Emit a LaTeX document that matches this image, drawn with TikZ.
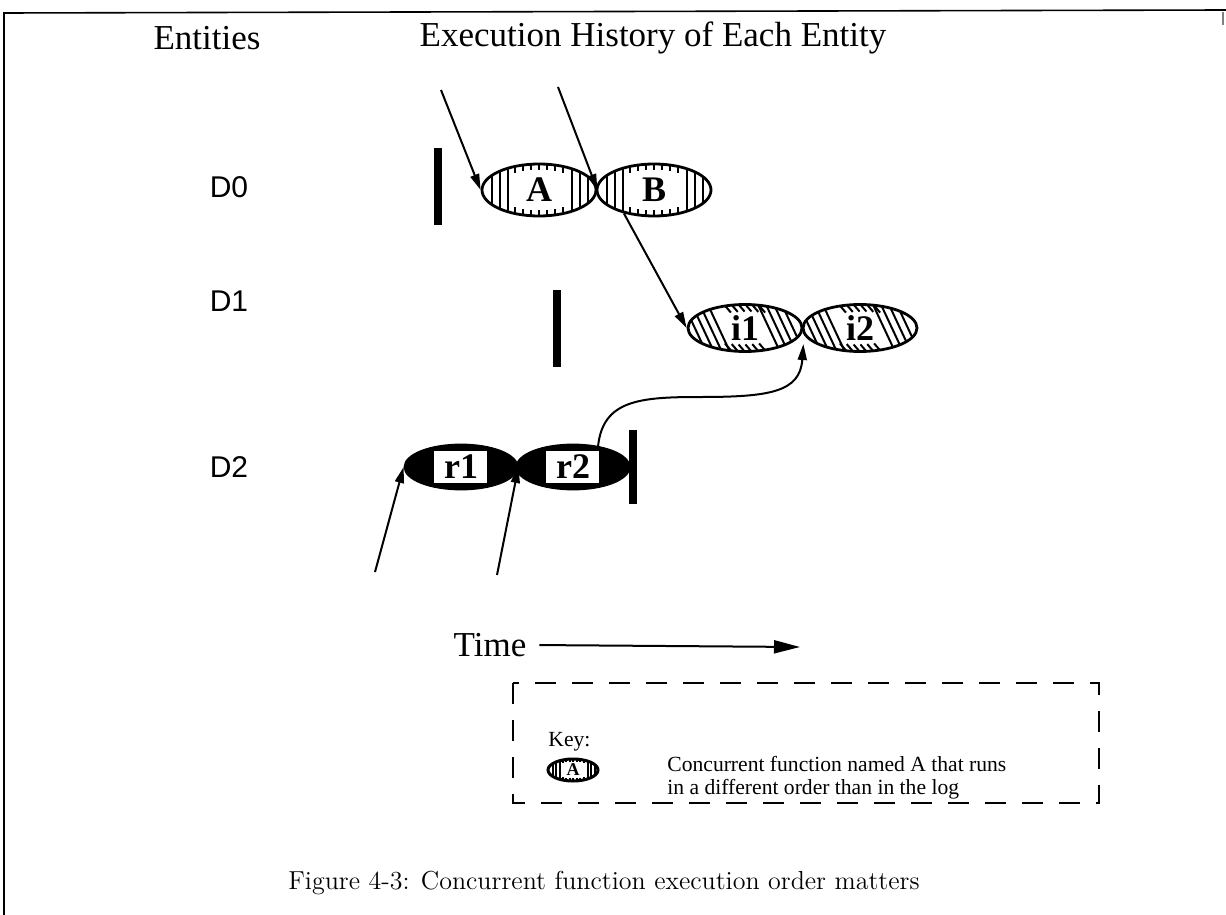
\documentclass[tikz,border=0pt]{standalone}
\usepackage{fontspec}
\newfontfamily\timesfont{Liberation Serif}
\newfontfamily\helvfont{Liberation Sans}
\usetikzlibrary{shapes.geometric,arrows.meta,calc}

% vertical hatching at both ends of a function: node, x radius, y radius
\newcommand{\vhatch}[3]{%
  \begin{scope}[shift={(#1.center)},line width=1pt]
    \clip (0,0) ellipse [x radius=#2, y radius=#3];
    \foreach \f in {-0.82,-0.68,-0.54,0.58,0.72,0.86}
      \draw ({\f*#2},-#3) -- ({\f*#2},#3);
    \foreach \f in {-0.42,-0.28,...,0.5}{
      \pgfmathsetmacro\ye{#3*sqrt(1-\f*\f)}
      \draw ({\f*#2},-\ye) -- ({\f*#2},{-\ye+0.24*#3})
            ({\f*#2},\ye) -- ({\f*#2},{\ye-0.24*#3});}
  \end{scope}}
% diagonal hatching at both ends of a function
\newcommand{\dhatch}[3]{%
  \begin{scope}[shift={(#1.center)},line width=1pt]
    \clip (0,0) ellipse [x radius=#2, y radius=#3];
    \foreach \f in {-0.88,-0.74,-0.6,-0.46,0.42,0.56,0.7,0.84}
      \draw ({\f*#2-11},-#3) -- ({\f*#2+11},#3);
    \foreach \f in {-0.3,-0.18,...,0.32}{
      \pgfmathsetmacro\ye{#3*sqrt(1-\f*\f)}
      \draw ({\f*#2-3},-\ye) -- ({\f*#2+3},{-\ye+7})
            ({\f*#2-3},{\ye-7}) -- ({\f*#2+3},\ye);}
  \end{scope}}

\tikzset{
  head/.style={font=\timesfont\fontsize{17.5}{20}\selectfont},
  entity/.style={font=\helvfont\fontsize{15}{18}\selectfont},
  bar/.style={line width=4pt},
  flow/.style={line width=1pt,-{Triangle[length=8pt,width=4.5pt]}},
  timearrow/.style={line width=1pt,-{Triangle[length=13pt,width=6.5pt]}},
  func/.style={ellipse,draw,line width=1.4pt,inner sep=0pt,
    minimum width=57pt,minimum height=26pt,
    font=\timesfont\fontsize{18}{18}\selectfont\bfseries},
  dfunc/.style={func,minimum height=23.5pt},
  % black with a white box
  rfunc/.style={func,fill=black,minimum width=56pt,minimum height=22pt,path picture={
    \fill[white] ([xshift=-13.5pt,yshift=-8pt]path picture bounding box.center)
      rectangle ([xshift=13pt,yshift=8pt]path picture bounding box.center);}},
  keyfunc/.style={ellipse,draw,line width=1.5pt,inner sep=0pt,
    minimum width=25pt,minimum height=11pt,
    font=\timesfont\fontsize{9}{9}\selectfont\bfseries},
  keybox/.style={line width=1pt,dash pattern=on 10.5pt off 8pt},
  keytext/.style={font=\timesfont\fontsize{10.8}{11.5}\selectfont,inner sep=0pt},
  caption/.style={font=\fontsize{13}{15}\selectfont}
}

\begin{document}
\begin{tikzpicture}[x=0.5pt,y=-0.5pt]
  \useasboundingbox (0,0) rectangle (1226,915);
  % page frame
  \draw[line width=0.8pt] (4,915) -- (4,13) -- (1226,10);
  \draw[line width=0.6pt,gray] (1223,12) -- (1223,25);

  \node[head] (ent) at (207,38) {Entities};
  \node[head] (hist) at (653,38) {Execution History of Each Entity};

  \node[entity] (d0) at (229,187) {D0};
  \node[entity] (d1) at (229,301) {D1};
  \node[entity] (d2) at (229,467) {D2};

  % start of each history
  \draw[bar] (438,148) -- (438,225);
  \draw[bar] (557,290) -- (557,367);
  \draw[bar] (633,430) -- (633,504);

  \node[func] (A) at (539,190) {A};
  \node[func] (B) at (654,190) {B};
  \vhatch{A}{57}{26}
  \vhatch{B}{57}{26}
  \node[dfunc] (i1) at (745,328) {i1};
  \node[dfunc] (i2) at (860,328) {i2};
  \dhatch{i1}{57}{23.5}
  \dhatch{i2}{57}{23.5}
  \node[rfunc] (r1) at (461,467) {r1};
  \node[rfunc] (r2) at (573,467) {r2};

  \coordinate (inA) at (441,90);
  \coordinate (inB) at (558,87);
  \coordinate (inr1) at (375,572);
  \coordinate (inr2) at (497,575);
  \coordinate (join) at ($(i1.east)+(0,16)$);

  \draw[flow] (inA) -- (A.west);
  \draw[flow] (inB) -- (A.east);
  \draw[flow] (B.218) -- (i1.west);
  \draw[flow] (inr1) -- (r1.west);
  \draw[flow] (inr2) -- (r1.east);
  \draw[flow] (r2.40) .. controls (603,400) and (640,397) .. (700,397)
    .. controls (770,397) and (800,392) .. (join);

  % time axis
  \node[head] (time) at (490,645) {Time};
  \coordinate (tend) at (800,647);
  \draw[timearrow,shorten <=3pt] (time.east) -- (tend);

  % key
  \draw[keybox] (513,683) rectangle (1099,803);
  \node[keytext,anchor=west] (key) at (548,742) {Key:};
  \node[keyfunc] (kA) at (573,770) {A};
  \vhatch{kA}{25}{11}
  \node[keytext,anchor=west,align=left] (kdesc) at (667,778)
    {Concurrent function named A that runs\\in a different order than in the log};

  \node[caption] (cap) at (604,883) {Figure 4-3: Concurrent function execution order matters};
\end{tikzpicture}
\end{document}
